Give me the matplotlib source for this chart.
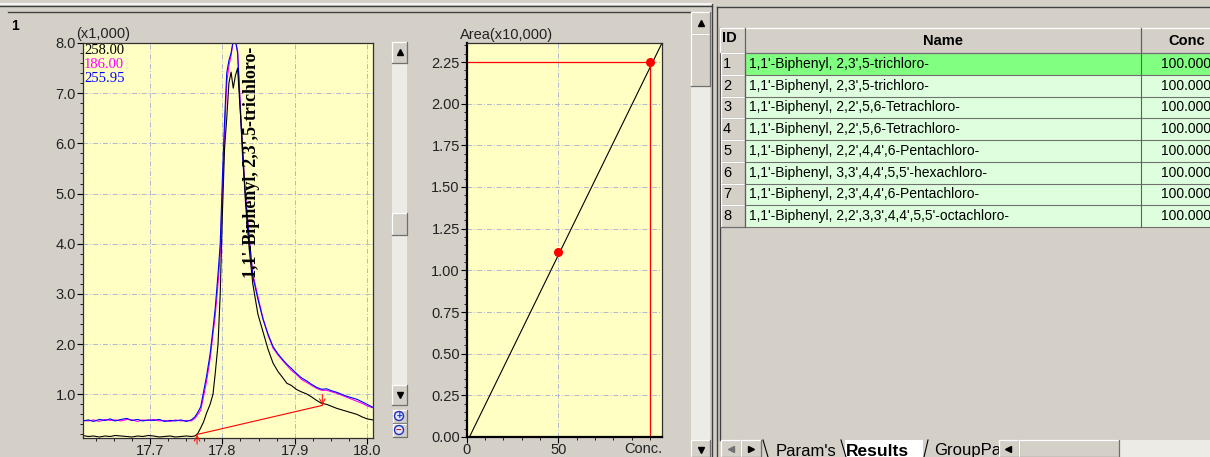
import matplotlib
matplotlib.use("Agg")
import matplotlib.pyplot as plt
from matplotlib.patches import Rectangle, Circle
from matplotlib.ticker import MultipleLocator, FixedLocator, FormatStrFormatter

plt.rcParams['font.family'] = ['Liberation Sans', 'DejaVu Sans']

# --- chromatogram data (retention time, intensity x1,000) ---
rt = [17.607, 17.615, 17.622, 17.630, 17.638, 17.645, 17.652, 17.660, 17.668, 17.675,
      17.683, 17.690, 17.698, 17.705, 17.713, 17.720, 17.728, 17.735, 17.743, 17.750,
      17.757, 17.762, 17.766, 17.770, 17.774, 17.778, 17.783, 17.787, 17.790, 17.794,
      17.797, 17.800, 17.803, 17.806, 17.809, 17.812, 17.815, 17.818, 17.821, 17.824,
      17.828, 17.832, 17.837, 17.842, 17.849, 17.856, 17.863, 17.870, 17.877, 17.884,
      17.889, 17.895, 17.902, 17.909, 17.916, 17.923, 17.930, 17.937, 17.944, 17.951,
      17.958, 17.965, 17.972, 17.979, 17.986, 17.993, 18.000, 18.008]

mz_258 = [0.18, 0.16, 0.17, 0.15, 0.17, 0.16, 0.18, 0.17, 0.16, 0.15,
          0.17, 0.16, 0.18, 0.17, 0.15, 0.16, 0.17, 0.15, 0.16, 0.17,
          0.16, 0.17, 0.22, 0.33, 0.45, 0.62, 0.80, 1.00, 1.40, 2.00,
          3.00, 4.60, 5.90, 6.50, 7.20, 7.42, 7.10, 7.35, 7.50, 6.80,
          5.90, 4.80, 3.90, 3.20, 2.60, 2.25, 1.90, 1.62, 1.45, 1.32,
          1.22, 1.18, 1.10, 1.05, 1.01, 0.95, 0.88, 0.82, 0.80, 0.76,
          0.72, 0.69, 0.66, 0.63, 0.60, 0.55, 0.51, 0.49]

mz_186 = [0.48, 0.47, 0.49, 0.46, 0.50, 0.48, 0.49, 0.47, 0.50, 0.49,
          0.46, 0.49, 0.48, 0.50, 0.47, 0.48, 0.46, 0.49, 0.47, 0.48,
          0.47, 0.52, 0.60, 0.68, 0.95, 1.25, 1.70, 2.20, 2.55, 3.20,
          3.80, 5.00, 6.20, 7.20, 7.55, 7.75, 8.05, 8.05, 7.85, 7.00,
          5.80, 5.00, 4.15, 3.40, 2.95, 2.52, 2.18, 1.92, 1.78, 1.66,
          1.58, 1.48, 1.40, 1.30, 1.24, 1.18, 1.12, 1.08, 1.08, 1.05,
          1.02, 0.98, 0.94, 0.90, 0.86, 0.82, 0.77, 0.73]

mz_256 = [0.47, 0.49, 0.46, 0.50, 0.48, 0.51, 0.47, 0.50, 0.52, 0.48,
          0.50, 0.47, 0.49, 0.48, 0.50, 0.46, 0.48, 0.47, 0.49, 0.46,
          0.49, 0.55, 0.64, 0.75, 1.05, 1.35, 1.80, 2.30, 2.70, 3.40,
          4.00, 5.30, 6.45, 7.40, 7.65, 7.80, 8.05, 8.05, 7.80, 6.90,
          5.70, 4.90, 4.10, 3.35, 2.90, 2.50, 2.20, 1.95, 1.80, 1.68,
          1.60, 1.52, 1.42, 1.33, 1.27, 1.20, 1.14, 1.10, 1.11, 1.07,
          1.04, 1.00, 0.96, 0.93, 0.90, 0.85, 0.80, 0.74]

baseline_rt = [17.765, 17.938]
baseline_int = [0.20, 0.78]
peak_name = "1,1'-Biphenyl, 2,3',5-trichloro-"
mz_labels = ["258.00", "186.00", "255.95"]
mz_colors = ["black", "#ff00ff", "#0000ff"]

# --- calibration curve (area x10,000) ---
cal_conc = [50, 100]
cal_area = [1.11, 2.25]
fit_conc = [1.5, 106.5]
fit_area = [0.0, 2.364]

# --- compound table ---
ids = [1, 2, 3, 4, 5, 6, 7, 8]
names = ["1,1'-Biphenyl, 2,3',5-trichloro-",
         "1,1'-Biphenyl, 2,3',5-trichloro-",
         "1,1'-Biphenyl, 2,2',5,6-Tetrachloro-",
         "1,1'-Biphenyl, 2,2',5,6-Tetrachloro-",
         "1,1'-Biphenyl, 2,2',4,4',6-Pentachloro-",
         "1,1'-Biphenyl, 3,3',4,4',5,5'-hexachloro-",
         "1,1'-Biphenyl, 2,3',4,4',6-Pentachloro-",
         "1,1'-Biphenyl, 2,2',3,3',4,4',5,5'-octachloro-"]
concs = ["100.000"] * 8
tabs = ["Param's", "Results", "GroupPa"]

W, H = 1210, 457
GRAY = "#d4d0c8"
PAPER = "#ffffc4"
GRID = "#b4b6d0"
TRACK = "#ecebe6"

fig = plt.figure(figsize=(W / 100, H / 100), dpi=100, facecolor=GRAY)
ui = fig.add_axes([0, 0, 1, 1])
ui.set_xlim(0, W)
ui.set_ylim(H, 0)
ui.axis('off')


def box(x, y, w, h, fc, ec='none', lw=0, z=1):
    ui.add_patch(Rectangle((x, y), w, h, facecolor=fc, edgecolor=ec, lw=lw, zorder=z))


def bevel(x, y, w, h, fc=GRAY, z=2):
    box(x, y, w, h, fc, z=z)
    ui.plot([x, x, x + w], [y + h, y, y], color='white', lw=0.9, zorder=z + 0.1)
    ui.plot([x, x + w, x + w], [y + h, y + h, y], color='#707070', lw=0.9, zorder=z + 0.1)


def px_axes(x0, y0, x1, y1):
    return fig.add_axes([x0 / W, 1 - y1 / H, (x1 - x0) / W, (y1 - y0) / H])


# window chrome
ui.plot([0, 712], [4, 4], color='#f4f4f4', lw=1.5)
ui.plot([0, 712], [6, 6], color='#404040', lw=1)
ui.plot([8, 690], [12, 12], color='#404040', lw=1)
ui.plot([717, W], [7, 7], color='#404040', lw=1)
ui.plot([712, 712], [4, H], color='#404040', lw=1)
ui.plot([717, 717], [7, H], color='#404040', lw=1)
ui.text(11, 26, "1", fontsize=10, weight='bold', va='center')

# scrollbar between plots
box(392, 42, 15, 363, TRACK)
bevel(392, 42, 15, 21)
ui.plot(399.5, 52, marker='^', color='black', ms=4, zorder=5)
bevel(392, 213, 15, 22)
bevel(392, 385, 15, 20)
ui.plot(399.5, 395, marker='v', color='black', ms=4, zorder=5)
for yy, sign in [(416, '+'), (430, '\u2212')]:
    bevel(393, yy - 6, 14, 13)
    ui.add_patch(Circle((399, yy), 4.5, facecolor='#dfe6ff', edgecolor='#2030c0', lw=1, zorder=4))
    ui.text(399, yy, sign, color='#2030c0' if sign == '+' else '#c02020', fontsize=7,
            ha='center', va='center', weight='bold', zorder=5)

# scrollbar right of calibration plot
box(691, 12, 19, 445, TRACK)
bevel(691, 12, 19, 22)
ui.plot(700.5, 23, marker='^', color='black', ms=5, zorder=5)
bevel(691, 34, 19, 52)
bevel(691, 440, 19, 17)
ui.plot(700.5, 450, marker='v', color='black', ms=5, zorder=5)

# --- chromatogram ---
ax = px_axes(83, 43, 373, 438)
ax.set_facecolor(PAPER)
for vals, col in zip([mz_186, mz_256, mz_258], ["#ff00ff", "#0000ff", "black"]):
    ax.plot(rt, vals, color=col, lw=0.8)
ax.plot(baseline_rt, baseline_int, color='red', lw=0.8)
ax.annotate('', xy=(baseline_rt[0], baseline_int[0]), xytext=(0, -7), textcoords='offset points',
            arrowprops=dict(arrowstyle='->', color='red', lw=0.7, shrinkA=0, shrinkB=0))
ax.annotate('', xy=(baseline_rt[1], baseline_int[1]), xytext=(0, 8), textcoords='offset points',
            arrowprops=dict(arrowstyle='->', color='red', lw=0.7, shrinkA=0, shrinkB=0))
ax.set_xlim(17.6075, 18.008)
ax.set_ylim(0.13, 8.0)
ax.xaxis.set_major_locator(FixedLocator([17.7, 17.8, 17.9, 18.0]))
ax.xaxis.set_major_formatter(FormatStrFormatter('%.1f'))
ax.xaxis.set_minor_locator(MultipleLocator(0.025))
ax.yaxis.set_major_locator(MultipleLocator(1.0))
ax.yaxis.set_major_formatter(FormatStrFormatter('%.1f'))
ax.yaxis.set_minor_locator(MultipleLocator(0.2))
ax.grid(True, which='major', color=GRID, lw=0.7, ls=(0, (5, 2, 1, 2)))
ax.tick_params(which='major', direction='out', length=4, width=0.8, labelsize=10.5,
               labelcolor='#222222', pad=1)
ax.tick_params(axis='x', which='major', pad=0.5)
ax.tick_params(which='minor', direction='out', length=2.5, width=0.6)
for s in ax.spines.values():
    s.set_color('#303030')
    s.set_linewidth(0.9)
ax.text(17.840, 3.32, peak_name, rotation=90, ha='center', va='bottom',
        family='Liberation Serif', weight='bold', fontsize=13)
for i, (lab, col) in enumerate(zip(mz_labels, mz_colors)):
    ax.text(84, 50 + i * 14.5, lab, color=col, family='Liberation Serif', fontsize=10.5,
            va='center', transform=ui.transData)
ax.text(76, 34, "(x1,000)", fontsize=10.5, color='#222222', va='center', transform=ui.transData)

# --- calibration curve ---
ax2 = px_axes(466.7, 43, 662, 437)
ax2.set_facecolor(PAPER)
ax2.plot(fit_conc, fit_area, color='black', lw=0.8)
ax2.plot([0, cal_conc[1]], [cal_area[1], cal_area[1]], color='red', lw=0.9)
ax2.plot([cal_conc[1], cal_conc[1]], [0, cal_area[1]], color='red', lw=0.9)
ax2.plot(cal_conc, cal_area, 'o', color='red', ms=5.5, zorder=5)
ax2.set_xlim(0, 106.5)
ax2.set_ylim(0, 2.364)
ax2.xaxis.set_major_locator(FixedLocator([0, 50]))
ax2.xaxis.set_minor_locator(MultipleLocator(10))
ax2.yaxis.set_major_locator(MultipleLocator(0.25))
ax2.yaxis.set_major_formatter(FormatStrFormatter('%.2f'))
ax2.yaxis.set_minor_locator(MultipleLocator(0.05))
ax2.grid(True, which='major', color=GRID, lw=0.7, ls=(0, (5, 2, 1, 2)))
ax2.tick_params(which='major', direction='out', length=4, width=0.8, labelsize=10.5,
                labelcolor='#222222', pad=1)
ax2.tick_params(axis='x', which='major', pad=0.5)
ax2.tick_params(which='minor', direction='out', length=2.5, width=0.6)
for side, s in ax2.spines.items():
    s.set_color('black' if side in ('left', 'bottom') else '#303030')
    s.set_linewidth(1.6 if side in ('left', 'bottom') else 0.9)
ax2.text(1.0, -0.012, "Conc.", transform=ax2.transAxes, ha='right', va='top',
         fontsize=10.5, color='#222222')
ax2.text(460, 35, "Area(x10,000)", fontsize=10.5, color='#222222', va='center',
         transform=ui.transData)

# --- results table ---
ui.plot([720, 720], [28, 440], color='#404040', lw=1)
bevel(720, 28, 25, 25)
bevel(745, 28, 396, 25)
bevel(1141, 28, 75, 25)
ui.text(722, 38, "ID", fontsize=10.5, weight='bold', va='center', zorder=6)
ui.text(943, 41, "Name", fontsize=10.5, weight='bold', ha='center', va='center', zorder=6)
ui.text(1187, 41, "Conc", fontsize=10.5, weight='bold', ha='center', va='center', zorder=6)
row_h = 21.75
for i, (n, name, c) in enumerate(zip(ids, names, concs)):
    y = 53 + i * row_h
    fc = '#80ff80' if i == 0 else '#ddffdd'
    bevel(721, y, 24, row_h)
    box(745, y, W - 745, row_h, fc, z=2)
    ui.plot([745, W], [y + row_h, y + row_h], color='#707070', lw=0.8, zorder=3)
    ui.text(723, y + row_h / 2, str(n), fontsize=10.5, va='center', zorder=6)
    ui.text(749, y + row_h / 2, name, fontsize=10, va='center', zorder=6)
    ui.text(1211, y + row_h / 2, c, fontsize=10, ha='right', va='center', zorder=6)
ui.plot([745, 745], [28, 53 + 8 * row_h], color='#606060', lw=0.8, zorder=3)
ui.plot([1141, 1141], [28, 53 + 8 * row_h], color='#606060', lw=0.8, zorder=3)

# bottom tab strip
bevel(721, 440, 20, 17)
ui.plot(731, 449, marker='<', color='#707070', ms=4, zorder=5)
bevel(741, 440, 20, 17)
ui.plot(751, 449, marker='>', color='black', ms=4, zorder=5)
box(845, 440, 78, 17, 'white', z=2)
ui.plot([763, 768], [440, 457], color='black', lw=0.8, zorder=3)
ui.plot([841, 846], [440, 457], color='black', lw=0.8, zorder=3)
ui.plot([924, 928], [457, 440], color='black', lw=0.8, zorder=3)
ui.text(776, 451, tabs[0], fontsize=12, va='center', zorder=6)
ui.text(846, 451, tabs[1], fontsize=12.5, weight='bold', va='center', zorder=6)
ui.text(934, 451, tabs[2], fontsize=12, va='center', zorder=4)
box(999, 440, W - 999, 17, GRAY, z=5)
bevel(999, 440, 20, 17, z=5)
ui.plot(1008, 449, marker='<', color='black', ms=4, zorder=6)
bevel(1019, 440, 100, 17, z=5)
box(1120, 440, W - 1120, 17, TRACK, z=5)

fig.savefig("out.png", dpi=100, facecolor=GRAY)
